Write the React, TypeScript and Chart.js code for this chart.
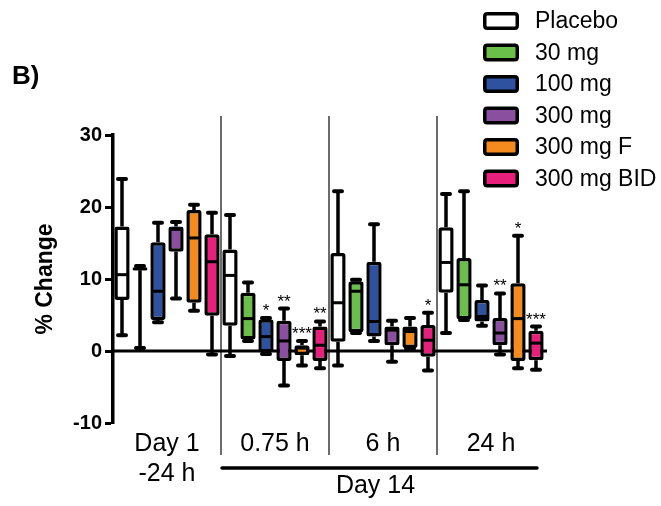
import React, { useEffect, useRef } from "react";
import { Chart, registerables } from "chart.js";

Chart.register(...registerables);

// ---- data ----
const groupLabels: (string | string[])[] = [["Day 1", "-24 h"], "0.75 h", "6 h", "24 h"];
const seriesNames = ["Placebo", "30 mg", "100 mg", "300 mg", "300 mg F", "300 mg BID"];
const seriesColors = ["#ffffff", "#6abf4b", "#2f52a0", "#8b4fa0", "#f58a1f", "#e8207c"];

// each entry: [min, q1, median, q3, max] per time point
const placebo = [
  [2.2, 7.1, 10.6, 17.3, 23.9],
  [-0.7, 3.5, 10.5, 14.1, 18.9],
  [-2.0, 1.3, 6.7, 13.6, 22.2],
  [2.5, 8.1, 12.3, 17.2, 21.8],
];
const mg30 = [
  [0.4, 11.2, 11.4, 11.6, 11.8],
  [1.4, 1.6, 4.5, 8.1, 9.5],
  [2.5, 2.6, 8.3, 9.7, 9.9],
  [4.3, 4.4, 9.2, 12.9, 22.2],
];
const mg100 = [
  [4.0, 4.3, 8.3, 15.1, 17.8],
  [-0.4, -0.2, 2.0, 4.4, 4.6],
  [1.4, 2.0, 4.1, 12.4, 17.6],
  [3.5, 4.1, 4.8, 7.1, 9.1],
];
const mg300 = [
  [7.3, 13.8, 16.9, 17.3, 17.9],
  [-4.8, -1.4, 1.4, 4.2, 5.9],
  [-1.5, 0.8, 2.9, 3.4, 4.2],
  [-0.5, 0.8, 2.5, 4.6, 8.0],
];
const mg300F = [
  [5.6, 6.7, 15.7, 19.6, 20.3],
  [-2.0, -0.6, 0.4, 0.8, 1.4],
  [0.3, 0.4, 2.7, 3.4, 4.6],
  [-2.4, -1.4, 4.5, 9.4, 16.0],
];
const mg300BID = [
  [-0.5, 4.9, 12.4, 16.2, 19.2],
  [-2.4, -1.4, 0.8, 3.4, 4.1],
  [-2.7, -0.8, 1.5, 3.6, 5.3],
  [-2.6, -1.3, 1.1, 2.8, 3.4],
];
const seriesStats = [placebo, mg30, mg100, mg300, mg300F, mg300BID];

const sigPlacebo = ["", "", "", ""];
const sig30 = ["", "", "", ""];
const sig100 = ["", "*", "", ""];
const sig300 = ["", "**", "", "**"];
const sig300F = ["", "***", "", "*"];
const sig300BID = ["", "**", "*", "***"];
const seriesSig = [sigPlacebo, sig30, sig100, sig300, sig300F, sig300BID];

const yTickStep = 10;
const yMin = -10;
const yMax = 30;
const panelLabel = "B)";
const yTitle = "% Change";
const dayLabel = "Day 14";

const FONT = "'Liberation Sans', Arial, Helvetica, sans-serif";

function roundRect(ctx: CanvasRenderingContext2D, x: number, y: number, w: number, h: number, r: number) {
  ctx.beginPath();
  ctx.moveTo(x + r, y);
  ctx.lineTo(x + w - r, y);
  ctx.quadraticCurveTo(x + w, y, x + w, y + r);
  ctx.lineTo(x + w, y + h - r);
  ctx.quadraticCurveTo(x + w, y + h, x + w - r, y + h);
  ctx.lineTo(x + r, y + h);
  ctx.quadraticCurveTo(x, y + h, x, y + h - r);
  ctx.lineTo(x, y + r);
  ctx.quadraticCurveTo(x, y, x + r, y);
  ctx.closePath();
}

const boxPlugin = {
  id: "boxExtras",
  beforeDatasetsDraw(chart: any) {
    const { ctx, chartArea, scales } = chart;
    const x = scales.x;
    const y = scales.y;
    ctx.save();
    // group separators
    ctx.strokeStyle = "#3a3a3a";
    ctx.lineWidth = 1.5;
    for (let i = 1; i < groupLabels.length; i++) {
      const px = (x.getPixelForValue(i - 1) + x.getPixelForValue(i)) / 2;
      ctx.beginPath();
      ctx.moveTo(px, 116);
      ctx.lineTo(px, 455);
      ctx.stroke();
    }
    // zero line
    const y0 = y.getPixelForValue(0);
    ctx.strokeStyle = "#000";
    ctx.lineWidth = 3;
    ctx.beginPath();
    ctx.moveTo(chartArea.left, y0);
    ctx.lineTo(chartArea.right + 2, y0);
    ctx.stroke();
    // whiskers
    seriesStats.forEach((stats, d) => {
      const meta = chart.getDatasetMeta(d);
      meta.data.forEach((bar: any, g: number) => {
        const s = stats[g];
        const cx = bar.x;
        const pMin = y.getPixelForValue(s[0]);
        const pQ1 = y.getPixelForValue(s[1]);
        const pQ3 = y.getPixelForValue(s[3]);
        const pMax = y.getPixelForValue(s[4]);
        ctx.strokeStyle = "#000";
        ctx.lineWidth = 3.5;
        ctx.lineCap = "butt";
        ctx.beginPath();
        ctx.moveTo(cx, pQ3);
        ctx.lineTo(cx, pMax);
        ctx.moveTo(cx, pQ1);
        ctx.lineTo(cx, pMin);
        ctx.stroke();
        ctx.lineWidth = 4;
        ctx.lineCap = "round";
        ctx.beginPath();
        ctx.moveTo(cx - 4, pMax);
        ctx.lineTo(cx + 4, pMax);
        ctx.moveTo(cx - 4, pMin);
        ctx.lineTo(cx + 4, pMin);
        ctx.stroke();
      });
    });
    ctx.restore();
  },
  afterDatasetsDraw(chart: any) {
    const { ctx, scales } = chart;
    const y = scales.y;
    ctx.save();
    seriesStats.forEach((stats, d) => {
      const meta = chart.getDatasetMeta(d);
      meta.data.forEach((bar: any, g: number) => {
        const s = stats[g];
        const cx = bar.x;
        const w = bar.width;
        const pMed = y.getPixelForValue(s[2]);
        ctx.strokeStyle = "#000";
        ctx.lineWidth = 3;
        ctx.lineCap = "butt";
        ctx.beginPath();
        ctx.moveTo(cx - w / 2 + 1, pMed);
        ctx.lineTo(cx + w / 2 - 1, pMed);
        ctx.stroke();
        const sig = seriesSig[d][g];
        if (sig) {
          const pMax = y.getPixelForValue(s[4]);
          ctx.fillStyle = "#000";
          ctx.font = `17px ${FONT}`;
          ctx.textAlign = "center";
          ctx.textBaseline = "alphabetic";
          ctx.fillText(sig, cx, pMax - 2);
        }
      });
    });
    ctx.restore();
  },
  afterDraw(chart: any) {
    const { ctx, chartArea, scales } = chart;
    const x = scales.x;
    ctx.save();
    // legend
    seriesNames.forEach((name, i) => {
      const cy = 21 + i * 31.5;
      ctx.fillStyle = seriesColors[i];
      ctx.strokeStyle = "#000";
      ctx.lineWidth = 3.5;
      roundRect(ctx, 484.75, cy - 7.25, 32.5, 14.5, 2.5);
      ctx.fill();
      ctx.stroke();
      ctx.fillStyle = "#000";
      ctx.font = `23px ${FONT}`;
      ctx.textAlign = "left";
      ctx.textBaseline = "middle";
      ctx.fillText(name, 535, cy + 1);
    });
    // panel label
    ctx.font = `bold 26px ${FONT}`;
    ctx.textAlign = "left";
    ctx.textBaseline = "middle";
    ctx.fillText(panelLabel, 12, 77);
    // Day 14 bracket
    const sep1 = (x.getPixelForValue(0) + x.getPixelForValue(1)) / 2;
    const x1 = sep1 + 1;
    const x2 = chartArea.right - 8;
    ctx.strokeStyle = "#000";
    ctx.lineWidth = 3.5;
    ctx.lineCap = "round";
    ctx.beginPath();
    ctx.moveTo(x1, 468);
    ctx.lineTo(x2, 468);
    ctx.stroke();
    ctx.font = `25px ${FONT}`;
    ctx.textAlign = "center";
    ctx.fillText(dayLabel, (x1 + x2) / 2 - 4, 486);
    ctx.restore();
  },
};

export default function App() {
  const ref = useRef<HTMLCanvasElement>(null);
  useEffect(() => {
    if (!ref.current) return;
    const chart = new Chart(ref.current, {
      type: "bar",
      data: {
        labels: groupLabels as any,
        datasets: seriesNames.map((name, i) => ({
          label: name,
          data: seriesStats[i].map((s) => [s[1], s[3]]) as any,
          backgroundColor: seriesColors[i],
          borderColor: "#000",
          borderWidth: 3.5,
          borderSkipped: false,
          borderRadius: 2.5,
          categoryPercentage: 1,
          barPercentage: 0.85,
        })),
      },
      options: {
        animation: false,
        responsive: false,
        devicePixelRatio: 1,
        layout: { padding: { left: 0, top: 135, right: 116, bottom: 0 } },
        plugins: { legend: { display: false }, tooltip: { enabled: false } },
        scales: {
          x: {
            grid: { display: false, drawTicks: false },
            border: { display: false },
            ticks: {
              font: { family: FONT, size: 25 },
              color: "#000",
              padding: 6.5,
              maxRotation: 0,
              autoSkip: false,
            },
            afterFit: (s: any) => {
              s.height = 83;
            },
          },
          y: {
            min: yMin,
            max: yMax,
            ticks: {
              stepSize: yTickStep,
              font: { family: FONT, size: 20, weight: "bold" },
              color: "#000",
              padding: 3,
            },
            grid: {
              drawOnChartArea: false,
              drawTicks: true,
              tickLength: 8,
              tickWidth: 3,
              tickColor: "#000",
            },
            border: { display: true, width: 3.5, color: "#000" },
            title: {
              display: true,
              text: yTitle,
              font: { family: FONT, size: 23, weight: "bold" },
              color: "#000",
              padding: { top: 32, bottom: 0 },
            },
            afterFit: (s: any) => {
              s.width = 113;
            },
          },
        },
      } as any,
      plugins: [boxPlugin],
    });
    return () => chart.destroy();
  }, []);
  return (
    <canvas
      ref={ref}
      width={661}
      height={506}
      style={{ position: "absolute", left: 0, top: 0, width: 661, height: 506 }}
    />
  );
}
